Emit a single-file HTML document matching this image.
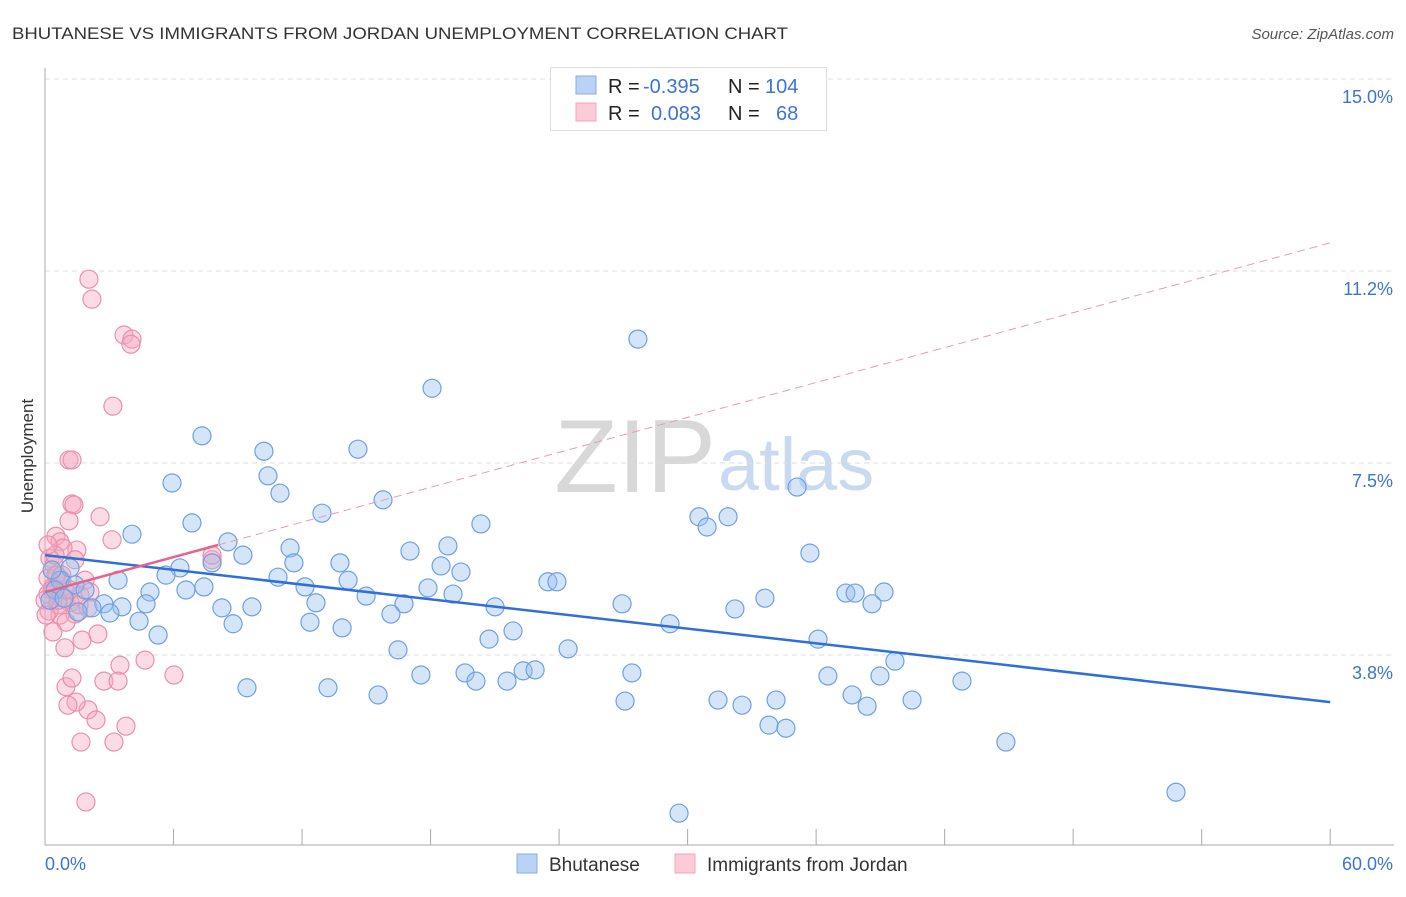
<!DOCTYPE html>
<html><head><meta charset="utf-8"><style>
body{margin:0;background:#fff;font-family:"Liberation Sans",sans-serif}
svg text{font-family:"Liberation Sans",sans-serif}
</style></head><body>
<svg id="c" width="1406" height="892">
<text x="12" y="39" font-size="17" fill="#333" textLength="776" lengthAdjust="spacingAndGlyphs">BHUTANESE VS IMMIGRANTS FROM JORDAN UNEMPLOYMENT CORRELATION CHART</text>
<text x="1394" y="39" font-size="15" fill="#555" font-style="italic" text-anchor="end">Source: ZipAtlas.com</text>
<text x="0" y="0" transform="translate(33,456) rotate(-90)" font-size="17" fill="#333" text-anchor="middle">Unemployment</text>
<text x="716" y="492" font-size="104" fill="#d8d8d8" font-family="Liberation Serif" text-anchor="end">ZIP</text>
<text x="718" y="490" font-size="74" fill="#c9daf0">atlas</text>
<g id="grid"></g><g id="axes"></g><g id="pts"></g><g id="trend"></g>
<g>
<rect x="550.5" y="67.5" width="276" height="63" fill="#fff" stroke="#ddd"/>
<rect x="576" y="76" width="20" height="18" fill="#b9d2f5" stroke="#86aee6"/>
<rect x="576" y="103" width="20" height="18" fill="#fbcbd7" stroke="#f0a5ba"/>
<text y="93" font-size="20" fill="#222"><tspan x="608">R = </tspan><tspan x="643" fill="#3b74d4">-0.395</tspan><tspan x="728">N = </tspan><tspan x="765" fill="#3b74d4">104</tspan></text>
<text y="120" font-size="20" fill="#222"><tspan x="608">R = </tspan><tspan x="651" fill="#3b74d4">0.083</tspan><tspan x="728">N = </tspan><tspan x="776" fill="#3b74d4">68</tspan></text>
</g>
<g>
<rect x="517" y="854" width="20" height="19" fill="#b9d2f5" stroke="#86aee6"/>
<text x="549" y="871" font-size="19" fill="#333">Bhutanese</text>
<rect x="675" y="854" width="20" height="19" fill="#fbcbd7" stroke="#f0a5ba"/>
<text x="707" y="871" font-size="19" fill="#333">Immigrants from Jordan</text>
</g>
</svg>
<script>
const yTicks=[15,11.25,7.5,3.75];
const yTickLabels=["15.0%","11.2%","7.5%","3.8%"];
const xTicks=[0,6,12,18,24,30,36,42,48,54,60];
const blueX=[27.68,18.07,7.33,10.22,14.61,5.93,10.41,10.97,15.78,12.93,6.86,20.35,30.53,31.89,30.91,35.11,4.06,8.54,9.24,11.44,17.04,18.81,13.77,11.62,7.80,6.30,5.65,10.88,14.15,18.49,19.42,23.48,23.90,35.71,37.39,37.82,39.17,38.61,33.61,32.21,26.94,21.01,16.76,16.15,17.88,19.05,14.99,12.14,12.65,9.66,8.26,7.42,6.58,4.90,4.72,3.41,2.75,3.59,3.03,2.19,1.54,4.39,5.28,8.78,12.37,13.87,20.73,21.85,24.42,29.18,36.09,16.48,19.61,20.12,17.55,21.57,22.32,22.88,27.40,27.08,31.42,32.54,34.13,33.80,34.59,36.55,37.68,38.38,38.98,39.68,40.48,42.81,44.86,52.80,29.60,9.43,13.21,15.55,1.17,0.70,0.47,0.23,1.40,0.89,1.87,0.33];
const blueY=[9.92,8.96,8.03,7.73,7.77,7.11,7.25,6.91,6.78,6.52,6.33,6.31,6.45,6.45,6.25,7.03,6.11,5.96,5.70,5.84,5.78,5.88,5.55,5.55,5.55,5.45,5.31,5.27,5.21,5.49,5.37,5.18,5.18,5.74,4.96,4.96,4.98,4.75,4.86,4.65,4.75,4.69,4.75,4.55,5.06,4.94,4.90,5.08,4.77,4.69,4.67,5.08,5.02,4.98,4.75,5.21,4.75,4.69,4.57,4.67,4.59,4.41,4.14,4.36,4.39,4.28,4.06,4.22,3.87,4.36,4.06,3.85,3.40,3.24,3.36,3.24,3.44,3.46,3.40,2.85,2.87,2.77,2.87,2.38,2.32,3.34,2.97,2.75,3.34,3.63,2.87,3.24,2.05,1.07,0.66,3.11,3.11,2.97,5.45,5.21,5.02,4.82,5.12,4.86,5.02,5.41];
const pinkX=[2.05,2.19,3.69,4.06,4.01,3.17,1.12,1.26,1.26,1.35,1.12,2.57,0.51,0.70,3.13,1.49,0.84,0.23,0.42,0.56,0.14,0.79,0.37,1.87,1.63,0.93,0.14,0.61,1.17,0.70,1.40,0.19,0.98,2.01,0.37,1.73,2.47,0.93,7.80,7.80,3.50,4.67,2.75,3.41,6.02,0.98,1.26,2.01,1.45,1.07,2.38,3.78,1.68,3.22,1.91,0.51,0.33,1.17,0.61,0,0.05,0.93,1.59,2.10,0.47,0.79,0.14,1.40];
const pinkY=[11.09,10.70,10.00,9.92,9.82,8.61,7.56,7.56,6.70,6.68,6.37,6.45,6.07,5.96,6.00,5.80,5.84,5.64,5.51,5.31,5.25,5.21,5.08,5.21,4.92,4.86,4.94,4.73,4.77,4.53,4.55,4.61,4.39,4.67,4.20,4.04,4.16,3.89,5.61,5.70,3.55,3.65,3.24,3.24,3.36,3.13,3.30,2.68,2.83,2.77,2.48,2.36,2.05,2.05,0.88,5.31,5.02,5.02,4.82,4.82,4.53,5.02,4.73,4.98,5.70,5.31,5.90,5.61];
const blueTrend=[5.70,2.83];
const pinkTrend=[4.98,11.80];
const pinkSolidEnd=8.08;
const X=v=>45+v*21.42, Y=v=>847-v*51.2;
const NS='http://www.w3.org/2000/svg';
function mk(t,a,p){const e=document.createElementNS(NS,t);for(const k in a)e.setAttribute(k,a[k]);document.getElementById(p).appendChild(e);return e;}
yTicks.forEach((t,i)=>{
 const l=mk('line',{x1:45,x2:1394,y1:Y(t),y2:Y(t),stroke:'#ddd','stroke-dasharray':'5,4'},'grid');
 
 
 const tx=mk('text',{x:1393,y:Y(t)+24,'font-size':18,fill:'#3b74d4','text-anchor':'end'},'grid');tx.textContent=yTickLabels[i];
 
 
});
let a=mk('line',{x1:45,x2:45,y1:68,y2:845,stroke:'#aaa'},'axes');


a=mk('line',{x1:45,x2:1394,y1:845,y2:845,stroke:'#aaa'},'axes');


xTicks.forEach(t=>{const l=mk('line',{x1:X(t),x2:X(t),y1:829,y2:845,stroke:'#aaa'},'axes');
 
 });
let tl=mk('text',{x:45,y:870,'font-size':18,fill:'#3b74d4'},'axes');tl.textContent='0.0%';


tl=mk('text',{x:1393,y:870,'font-size':18,fill:'#3b74d4','text-anchor':'end'},'axes');tl.textContent='60.0%';


pinkX.forEach((x,i)=>{const c=mk('circle',{cx:X(x),cy:Y(pinkY[i]),r:9,fill:'rgba(246,168,192,0.4)',stroke:'#eb8fab','stroke-width':1.2},'pts');
 
 });
blueX.forEach((x,i)=>{const c=mk('circle',{cx:X(x),cy:Y(blueY[i]),r:9,fill:'rgba(150,190,238,0.4)',stroke:'#6ea0e2','stroke-width':1.2},'pts');
 
 });
let t=mk('line',{x1:X(0),y1:Y(blueTrend[0]),x2:X(60),y2:Y(blueTrend[1]),stroke:'#2f6fd6','stroke-width':2.5},'trend');


const py=x=>pinkTrend[0]+(pinkTrend[1]-pinkTrend[0])*x/60;
t=mk('line',{x1:X(pinkSolidEnd),y1:Y(py(pinkSolidEnd)),x2:X(60),y2:Y(pinkTrend[1]),stroke:'#eb9ab2','stroke-width':1,'stroke-dasharray':'8,5'},'trend');


t=mk('line',{x1:X(0),y1:Y(pinkTrend[0]),x2:X(pinkSolidEnd),y2:Y(py(pinkSolidEnd)),stroke:'#e5638c','stroke-width':2.5},'trend');


</script>
</body></html>
